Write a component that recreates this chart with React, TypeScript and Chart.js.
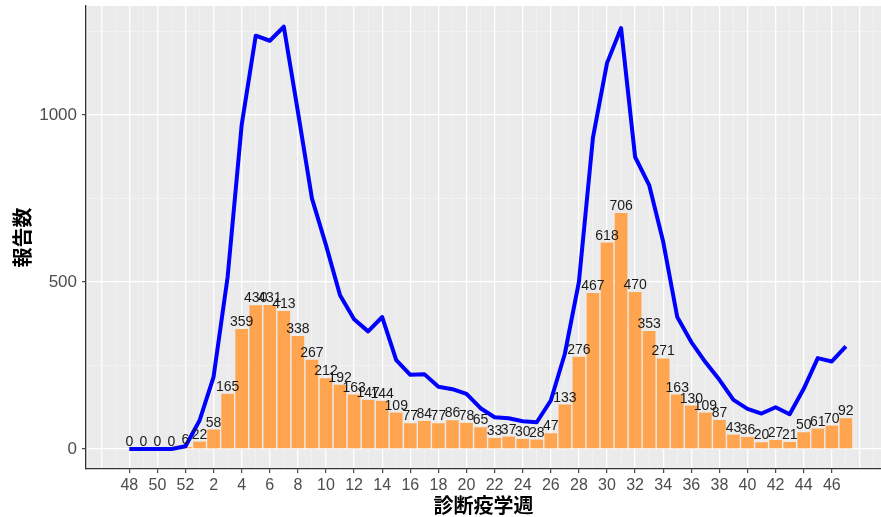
import React, { useEffect, useRef } from 'react';
import { Chart, registerables } from 'chart.js';

Chart.register(...registerables);

const weeks = [48, 49, 50, 51, 52, 1, 2, 3, 4, 5, 6, 7, 8, 9, 10, 11, 12, 13, 14, 15, 16, 17, 18, 19, 20, 21, 22, 23, 24, 25, 26, 27, 28, 29, 30, 31, 32, 33, 34, 35, 36, 37, 38, 39, 40, 41, 42, 43, 44, 45, 46, 47];
const reports = [0, 0, 0, 0, 6, 22, 58, 165, 359, 430, 431, 413, 338, 267, 212, 192, 163, 147, 144, 109, 77, 84, 77, 86, 78, 65, 33, 37, 30, 28, 47, 133, 276, 467, 618, 706, 470, 353, 271, 163, 130, 109, 87, 43, 36, 20, 27, 21, 50, 61, 70, 92];
const lineValues = [0, 0, 0, 0, 8, 85, 216, 515, 970, 1237, 1222, 1264, 1010, 750, 610, 460, 388, 352, 395, 266, 222, 224, 186, 179, 165, 122, 95, 92, 83, 80, 145, 285, 500, 932, 1155, 1260, 874, 790, 620, 395, 320, 260, 207, 147, 120, 106, 125, 104, 180, 272, 262, 307];
const yTicks = [0, 250, 500, 750, 1000, 1250];
const yTitle = '報告数';
const xTitle = '診断疫学週';

const NUM_FONT = '"Liberation Sans", Arial, sans-serif';
const CJK_FONT = '"Noto Sans CJK JP", sans-serif';

function xLabel(v: number): string {
  if (Number.isInteger(v) && v >= 0 && v < weeks.length && v % 2 === 0) return String(weeks[v]);
  return '';
}

const panelPlugin = {
  id: 'panelPlugin',
  beforeDraw(chart: any) {
    const { ctx, chartArea } = chart;
    ctx.save();
    ctx.fillStyle = '#EBEBEB';
    ctx.fillRect(chartArea.left, chartArea.top, chartArea.right - chartArea.left, chartArea.bottom - chartArea.top);
    ctx.restore();
  },
  afterDatasetsDraw(chart: any) {
    const { ctx } = chart;
    const meta = chart.getDatasetMeta(0);
    ctx.save();
    ctx.font = `14px ${NUM_FONT}`;
    ctx.fillStyle = '#1A1A1A';
    ctx.textAlign = 'center';
    ctx.textBaseline = 'alphabetic';
    meta.data.forEach((el: any, i: number) => {
      ctx.fillText(String(reports[i]), el.x, el.y - 3);
    });
    ctx.restore();
  },
  afterDraw(chart: any) {
    const { ctx, chartArea } = chart;
    ctx.save();
    ctx.fillStyle = '#000000';
    ctx.font = `bold 20px ${CJK_FONT}`;
    ctx.textAlign = 'center';
    ctx.textBaseline = 'middle';
    ctx.fillText(xTitle, (chartArea.left + chartArea.right) / 2, 505);
    ctx.translate(22, (chartArea.top + chartArea.bottom) / 2);
    ctx.rotate(-Math.PI / 2);
    ctx.fillText(yTitle, 0, 0);
    ctx.restore();
  },
};

export default function App() {
  const ref = useRef<HTMLCanvasElement | null>(null);
  useEffect(() => {
    if (!ref.current) return;
    const xTickVals: number[] = [];
    for (let v = -3; v <= 53; v++) xTickVals.push(v);
    const chart = new Chart(ref.current, {
      type: 'bar',
      data: {
        datasets: [
          {
            type: 'bar',
            data: reports.map((v, i) => ({ x: i, y: v })),
            backgroundColor: '#FFA54F',
            borderWidth: 0,
            barPercentage: 0.9,
            categoryPercentage: 1,
            grouped: false,
            order: 2,
          } as any,
          {
            type: 'line',
            data: lineValues.map((v, i) => ({ x: i, y: v })),
            borderColor: '#0000FF',
            borderWidth: 4,
            pointRadius: 0,
            tension: 0,
            borderCapStyle: 'butt',
            borderJoinStyle: 'round',
            order: 1,
          } as any,
        ],
      },
      options: {
        animation: false,
        responsive: false,
        maintainAspectRatio: false,
        layout: { padding: { top: 6, right: 0, left: 0, bottom: 0 } },
        plugins: { legend: { display: false }, tooltip: { enabled: false } },
        scales: {
          x: {
            type: 'linear',
            offset: false,
            min: -3.08,
            max: 53.5,
            afterBuildTicks: (scale: any) => {
              scale.ticks = xTickVals.map((v) => ({ value: v }));
            },
            afterFit: (scale: any) => {
              scale.height = 48;
              scale.paddingLeft = 0;
              scale.paddingRight = 0;
            },
            ticks: {
              autoSkip: false,
              maxRotation: 0,
              minRotation: 0,
              padding: 3,
              color: '#4D4D4D',
              font: { family: NUM_FONT, size: 16 },
              callback: (v: any) => xLabel(Number(v)),
            },
            grid: {
              offset: false,
              color: (c: any) => (c.tick && Number(c.tick.value) % 2 === 0 ? '#FFFFFF' : '#F5F5F5'),
              lineWidth: (c: any) => (c.tick && Number(c.tick.value) % 2 === 0 ? 1.3 : 0.7),
              tickColor: (c: any) => (c.tick && xLabel(Number(c.tick.value)) !== '' ? '#333333' : 'rgba(0,0,0,0)'),
              tickLength: 4,
              tickWidth: 1.1,
            },
            border: { display: true, color: '#333333', width: 1.3 },
          },
          y: {
            type: 'linear',
            min: -60,
            max: 1326,
            afterBuildTicks: (scale: any) => {
              scale.ticks = yTicks.map((v) => ({ value: v }));
            },
            afterFit: (scale: any) => {
              scale.width = 86;
              scale.paddingTop = 0;
              scale.paddingBottom = 0;
            },
            ticks: {
              autoSkip: false,
              padding: 5,
              color: '#4D4D4D',
              font: { family: NUM_FONT, size: 17 },
              callback: (v: any) => (Number(v) % 500 === 0 ? String(v) : ''),
            },
            grid: {
              color: (c: any) => (c.tick && Number(c.tick.value) % 500 === 0 ? '#FFFFFF' : '#F5F5F5'),
              lineWidth: (c: any) => (c.tick && Number(c.tick.value) % 500 === 0 ? 1.3 : 0.7),
              tickColor: (c: any) => (c.tick && Number(c.tick.value) % 500 === 0 ? '#333333' : 'rgba(0,0,0,0)'),
              tickLength: 4,
              tickWidth: 1.1,
            },
            border: { display: true, color: '#333333', width: 1.3 },
          },
        },
      },
      plugins: [panelPlugin],
    });
    return () => chart.destroy();
  }, []);
  return (
    <div style={{ position: 'fixed', left: 0, top: 0, width: 881, height: 517, background: '#FFFFFF' }}>
      <canvas ref={ref} width={881} height={517} style={{ width: 881, height: 517, display: 'block' }} />
    </div>
  );
}
